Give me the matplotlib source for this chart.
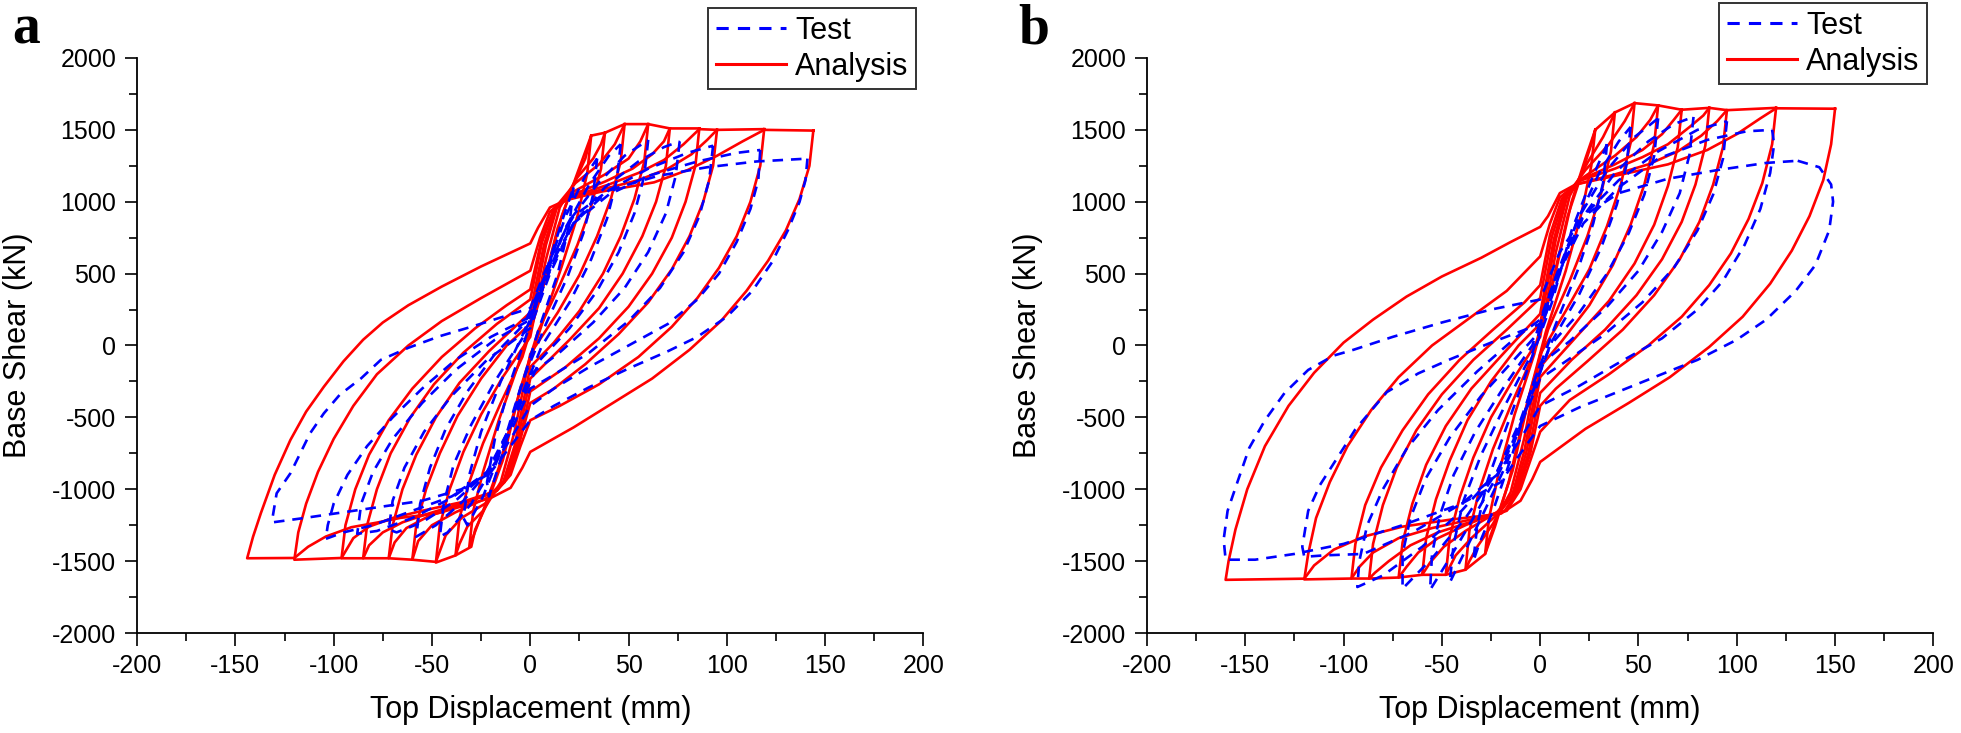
import matplotlib
matplotlib.use("Agg")
from matplotlib import pyplot as plt
from matplotlib.lines import Line2D

# loops: (top displacement mm, base shear kN)
# each loop starts and ends at its positive peak

# ---- panel a, analysis (red)
ana_a = [
    [(144, 1495), (142, 1250), (137, 1020), (130, 800), (121, 590), (110, 380), (97, 170), (81, -30),
     (62, -230), (42, -400), (22, -570), (0, -740), (-4, -850), (-10, -990), (-20, -1060), (-47, -1167),
     (-66, -1199), (-78, -1232), (-91, -1264), (-104, -1329), (-113, -1400), (-120, -1478), (-144, -1480),
     (-141, -1330), (-137, -1165), (-130, -900), (-122, -657), (-114, -460), (-105, -287), (-95, -110),
     (-85, 40), (-75, 160), (-62, 280), (-45, 410), (-25, 550), (0, 710), (4, 820), (10, 960), (18, 1010),
     (36, 1070), (63, 1135), (80, 1220), (95, 1320), (108, 1420), (119, 1500), (144, 1495)],
    [(119, 1505), (117, 1250), (112, 1000), (105, 760), (96, 540), (85, 330), (72, 130), (55, -80),
     (35, -270), (15, -420), (0, -520), (-5, -700), (-10, -900), (-17, -1010), (-35, -1090),
     (-55, -1150), (-70, -1200), (-82, -1260), (-90, -1340), (-96, -1478), (-120, -1490),
     (-118, -1300), (-114, -1100), (-108, -880), (-100, -650), (-90, -420), (-78, -200), (-62, 0),
     (-45, 170), (-25, 330), (0, 520), (5, 750), (10, 930), (17, 1010), (35, 1080), (55, 1150),
     (70, 1230), (82, 1330), (90, 1430), (95, 1500), (119, 1505)],
    [(95, 1500), (93, 1250), (88, 1000), (81, 760), (72, 530), (60, 300), (45, 80), (28, -130),
     (12, -300), (0, -400), (-5, -650), (-10, -880), (-17, -1010), (-35, -1100), (-52, -1170),
     (-65, -1230), (-75, -1300), (-82, -1390), (-85, -1480), (-96, -1480),
     (-94, -1250), (-89, -1000), (-82, -760), (-72, -520), (-60, -300), (-45, -80), (-28, 120),
     (-12, 280), (0, 390), (6, 750), (12, 950), (20, 1030), (40, 1120), (55, 1200), (68, 1290),
     (78, 1400), (86, 1505), (95, 1500)],
    [(86, 1510), (84, 1250), (79, 1000), (72, 750), (62, 500), (50, 270), (35, 50), (18, -150),
     (0, -320), (-6, -700), (-12, -930), (-20, -1030), (-38, -1120), (-52, -1190), (-63, -1270),
     (-69, -1370), (-72, -1480), (-85, -1480),
     (-83, -1250), (-78, -1000), (-71, -750), (-61, -500), (-49, -270), (-34, -50), (-17, 150), (0, 320),
     (6, 720), (12, 940), (20, 1040), (38, 1140), (52, 1230), (62, 1330), (68, 1420), (71, 1510), (86, 1510)],
    [(71, 1510), (69, 1250), (64, 1000), (57, 760), (47, 500), (35, 260), (20, 40), (0, -230),
     (-7, -700), (-13, -950), (-22, -1060), (-38, -1160), (-50, -1250), (-57, -1360), (-60, -1490),
     (-72, -1480),
     (-70, -1250), (-65, -1000), (-58, -760), (-48, -500), (-36, -260), (-21, -40), (0, 230),
     (7, 700), (13, 950), (22, 1070), (38, 1190), (50, 1300), (56, 1420), (60, 1540), (71, 1510)],
    [(60, 1540), (58, 1280), (53, 1020), (46, 760), (37, 500), (25, 240), (12, 20), (0, -150),
     (-8, -700), (-14, -960), (-23, -1100), (-35, -1200), (-43, -1320), (-48, -1505), (-60, -1490),
     (-58, -1250), (-53, -1000), (-46, -750), (-37, -490), (-25, -230), (-12, 0), (0, 150),
     (8, 700), (14, 980), (23, 1130), (35, 1260), (43, 1400), (48, 1540), (60, 1540)],
    [(48, 1540), (46, 1280), (41, 1020), (34, 760), (25, 490), (14, 230), (0, -60), (-8, -600),
     (-15, -950), (-24, -1150), (-32, -1260), (-36, -1380), (-38, -1460), (-48, -1510),
     (-46, -1250), (-41, -1000), (-34, -740), (-25, -480), (-14, -220), (0, 60), (8, 600),
     (15, 960), (24, 1170), (32, 1300), (36, 1400), (38, 1480), (48, 1540)],
    [(38, 1480), (36, 1230), (31, 970), (24, 700), (15, 420), (4, 100), (-5, -300), (-14, -800),
     (-22, -1100), (-28, -1280), (-30, -1400), (-38, -1460),
     (-36, -1200), (-31, -950), (-24, -680), (-15, -400), (-4, -80), (5, 330), (14, 820),
     (22, 1120), (28, 1300), (31, 1460), (38, 1480)],
    [(31, 1460), (29, 1200), (24, 900), (16, 550), (6, 150), (-6, -350), (-16, -850), (-24, -1150),
     (-31, -1400), (-29, -1150), (-24, -880), (-16, -520), (-6, -130), (6, 380), (16, 900),
     (24, 1200), (31, 1460)],
]

# ---- panel a, test (blue)
test_a = [
    [(141, 1300), (140, 1150), (137, 1000), (131, 800), (123, 580), (113, 380), (100, 200), (85, 60),
     (70, -40), (50, -160), (30, -290), (12, -420), (0, -520), (-10, -700), (-20, -880), (-35, -1000),
     (-55, -1080), (-80, -1130), (-100, -1170), (-115, -1200), (-131, -1230),
     (-131, -1190), (-129, -1028), (-122, -889), (-117, -750), (-112, -611), (-105, -472), (-97, -344),
     (-86, -228), (-76, -100), (-62, -16), (-46, 65), (-30, 130), (-15, 195), (0, 260), (10, 600),
     (22, 900), (40, 1080), (65, 1180), (90, 1240), (115, 1280), (141, 1300)],
    [(117, 1360), (116, 1150), (112, 950), (105, 720), (96, 500), (85, 320), (70, 150), (50, 0),
     (30, -150), (12, -300), (0, -420), (-10, -650), (-22, -900), (-40, -1050), (-60, -1150),
     (-80, -1250), (-95, -1300), (-104, -1345),
     (-103, -1250), (-100, -1100), (-93, -900), (-83, -700), (-70, -500), (-55, -300), (-38, -100),
     (-20, 60), (0, 200), (10, 550), (22, 850), (40, 1050), (60, 1180), (85, 1280), (105, 1340), (117, 1360)],
    [(93, 1390), (91, 1150), (86, 900), (78, 650), (66, 400), (50, 170), (30, -50), (10, -220),
     (0, -300), (-10, -600), (-22, -880), (-40, -1060), (-60, -1200), (-78, -1290), (-88, -1310),
     (-86, -1100), (-80, -880), (-70, -650), (-55, -400), (-38, -170), (-18, 40), (0, 180), (10, 520),
     (22, 850), (40, 1080), (60, 1230), (80, 1340), (93, 1390)],
    [(76, 1420), (74, 1180), (69, 920), (60, 650), (48, 400), (32, 160), (14, -60), (0, -200),
     (-10, -560), (-22, -880), (-38, -1080), (-55, -1230), (-68, -1300), (-72, -1280),
     (-70, -1080), (-64, -850), (-54, -600), (-40, -350), (-22, -100), (0, 120), (10, 500),
     (22, 850), (38, 1100), (55, 1280), (68, 1380), (76, 1420)],
    [(60, 1430), (58, 1180), (53, 920), (45, 650), (34, 380), (20, 120), (5, -100), (-8, -500),
     (-20, -850), (-34, -1080), (-48, -1250), (-58, -1330),
     (-56, -1100), (-51, -850), (-43, -580), (-32, -320), (-18, -60), (-3, 150), (8, 500),
     (20, 870), (34, 1120), (48, 1320), (60, 1430)],
    [(46, 1400), (44, 1150), (39, 880), (31, 600), (20, 300), (6, 0), (-6, -400), (-17, -800),
     (-30, -1100), (-42, -1300), (-46, -1330),
     (-44, -1100), (-39, -830), (-30, -550), (-18, -250), (-4, 50), (8, 450), (18, 820),
     (30, 1120), (40, 1320), (46, 1400)],
    [(34, 1300), (32, 1050), (27, 780), (19, 480), (8, 150), (-4, -250), (-14, -700), (-24, -1050),
     (-32, -1250), (-34, -1200), (-31, -900), (-25, -600), (-15, -250), (-3, 100), (8, 500),
     (18, 900), (28, 1180), (34, 1300)],
    [(22, 1100), (20, 850), (14, 500), (4, 100), (-6, -350), (-14, -750), (-21, -1050),
     (-22, -950), (-18, -650), (-10, -250), (0, 150), (10, 600), (17, 900), (22, 1100)],
]

# ---- panel b, analysis (red)
ana_b = [
    [(150, 1647), (148, 1400), (144, 1150), (137, 900), (128, 660), (117, 430), (103, 200), (86, -10),
     (66, -220), (45, -400), (23, -580), (0, -810), (-4, -930), (-10, -1080), (-20, -1170),
     (-45, -1210), (-70, -1260), (-90, -1330), (-105, -1420), (-115, -1530), (-120, -1622), (-160, -1630),
     (-158.5, -1500), (-155, -1280), (-149, -1000), (-140, -700), (-128, -420), (-115, -190), (-100, 20),
     (-85, 180), (-68, 340), (-50, 480), (-30, 610), (-15, 720), (0, 825), (4, 900), (10, 1060),
     (18, 1120), (38, 1180), (65, 1260), (85, 1360), (100, 1470), (112, 1580), (120, 1650), (150, 1647)],
    [(120, 1653), (118, 1400), (113, 1130), (106, 880), (97, 640), (86, 420), (72, 200), (55, 0),
     (35, -200), (15, -380), (0, -600), (-5, -800), (-10, -1000), (-17, -1150), (-35, -1210),
     (-55, -1270), (-72, -1340), (-85, -1440), (-92, -1540), (-96, -1621), (-120, -1627),
     (-118, -1450), (-114, -1200), (-107, -950), (-98, -700), (-86, -450), (-72, -220), (-55, 0),
     (-35, 200), (-17, 380), (0, 620), (5, 850), (10, 1030), (18, 1120), (38, 1190), (55, 1260),
     (70, 1350), (82, 1460), (90, 1560), (95, 1637), (120, 1653)],
    [(95, 1637), (93, 1380), (88, 1120), (81, 860), (71, 600), (58, 350), (42, 110), (24, -110),
     (8, -300), (0, -420), (-5, -750), (-11, -1000), (-18, -1150), (-36, -1230), (-52, -1300),
     (-66, -1390), (-77, -1500), (-84, -1580), (-87, -1621), (-96, -1621),
     (-94, -1380), (-89, -1110), (-81, -850), (-70, -590), (-57, -340), (-41, -100), (-24, 110),
     (-8, 300), (0, 420), (5, 770), (11, 1020), (19, 1140), (38, 1230), (52, 1310), (65, 1400),
     (76, 1520), (83, 1600), (86, 1653), (95, 1637)],
    [(86, 1653), (84, 1390), (79, 1120), (72, 860), (62, 600), (49, 350), (33, 110), (16, -100),
     (0, -330), (-6, -750), (-12, -1010), (-20, -1150), (-38, -1250), (-52, -1340), (-62, -1440),
     (-68, -1540), (-72, -1614), (-87, -1621),
     (-85, -1380), (-80, -1110), (-73, -850), (-63, -590), (-50, -340), (-34, -100), (-17, 110), (0, 330),
     (6, 760), (12, 1020), (20, 1150), (38, 1260), (52, 1360), (62, 1470), (68, 1570), (72, 1640), (86, 1653)],
    [(72, 1640), (70, 1380), (65, 1110), (58, 840), (48, 570), (35, 310), (19, 70), (0, -220),
     (-7, -740), (-13, -1020), (-22, -1160), (-38, -1290), (-49, -1400), (-56, -1510), (-60, -1595),
     (-72, -1614),
     (-70, -1370), (-65, -1100), (-58, -830), (-48, -560), (-35, -300), (-19, -60), (0, 220),
     (7, 740), (13, 1030), (22, 1170), (38, 1320), (49, 1450), (56, 1570), (60, 1670), (72, 1640)],
    [(60, 1670), (58, 1400), (53, 1120), (46, 840), (37, 560), (25, 280), (11, 30), (0, -150),
     (-8, -730), (-14, -1030), (-23, -1190), (-35, -1340), (-43, -1460), (-48, -1595), (-60, -1595),
     (-58, -1340), (-53, -1070), (-46, -800), (-37, -520), (-25, -250), (-11, 0), (0, 150),
     (8, 740), (14, 1050), (23, 1220), (35, 1400), (43, 1560), (48, 1686), (60, 1670)],
    [(48, 1686), (46, 1410), (41, 1120), (34, 830), (25, 530), (13, 240), (0, -60), (-8, -640),
     (-15, -1020), (-24, -1240), (-32, -1400), (-36, -1500), (-38, -1560), (-48, -1595),
     (-46, -1330), (-41, -1060), (-34, -780), (-25, -500), (-13, -220), (0, 60), (8, 650),
     (15, 1040), (24, 1270), (32, 1450), (36, 1560), (38, 1621), (48, 1686)],
    [(38, 1621), (36, 1350), (31, 1060), (24, 760), (15, 450), (4, 110), (-5, -320), (-14, -870),
     (-22, -1200), (-26, -1350), (-28, -1450), (-38, -1560),
     (-36, -1290), (-31, -1010), (-24, -720), (-15, -420), (-4, -80), (5, 360), (14, 900),
     (22, 1230), (26, 1400), (28, 1500), (38, 1621)],
    [(28, 1500), (26, 1250), (21, 920), (13, 520), (3, 100), (-7, -420), (-16, -950), (-23, -1260),
     (-28, -1450), (-26, -1200), (-21, -880), (-13, -480), (-3, -60), (7, 460), (16, 1000),
     (23, 1300), (28, 1500)],
]

# ---- panel b, test (blue)
test_b = [
    [(131, 1285), (142, 1240), (148, 1120), (149, 1000), (147, 800), (140, 560), (130, 380), (115, 180),
     (100, 40), (80, -100), (60, -210), (40, -320), (20, -430), (0, -560), (-10, -750), (-20, -950),
     (-40, -1100), (-70, -1250), (-100, -1380), (-125, -1450), (-145, -1490), (-160, -1490),
     (-161, -1350), (-159, -1150), (-154, -950), (-148, -713), (-140, -520), (-130, -330), (-118, -170),
     (-105, -70), (-95, -30), (-75, 60), (-50, 160), (-25, 250), (0, 320), (10, 650), (22, 900),
     (40, 1060), (65, 1160), (90, 1220), (115, 1270), (131, 1285)],
    [(118, 1500), (119, 1400), (117, 1200), (112, 950), (104, 700), (93, 450), (80, 250), (62, 50),
     (40, -120), (20, -280), (0, -420), (-10, -650), (-22, -900), (-40, -1100), (-65, -1300),
     (-90, -1450), (-110, -1460), (-120, -1470),
     (-121, -1400), (-118, -1150), (-112, -970), (-100, -713), (-94, -583), (-78, -324), (-62, -194),
     (-46, -97), (-25, 20), (0, 150), (10, 520), (22, 850), (40, 1100), (60, 1300), (85, 1430),
     (105, 1490), (118, 1500)],
    [(95, 1560), (93, 1300), (88, 1050), (80, 800), (68, 540), (52, 300), (32, 70), (12, -120),
     (0, -230), (-10, -550), (-22, -880), (-40, -1150), (-60, -1400), (-80, -1600), (-93, -1680),
     (-92, -1500), (-88, -1250), (-80, -1000), (-68, -720), (-52, -450), (-32, -180), (-12, 60),
     (0, 180), (10, 550), (22, 900), (40, 1150), (60, 1350), (80, 1500), (95, 1560)],
    [(78, 1590), (76, 1330), (71, 1060), (62, 790), (50, 520), (34, 270), (15, 30), (0, -130),
     (-10, -520), (-22, -880), (-38, -1200), (-55, -1480), (-70, -1692),
     (-70, -1450), (-66, -1200), (-58, -920), (-46, -640), (-30, -350), (-12, -80), (0, 100),
     (10, 520), (22, 900), (38, 1200), (55, 1420), (68, 1540), (78, 1590)],
    [(60, 1580), (58, 1320), (53, 1050), (45, 780), (34, 500), (20, 230), (5, 0), (-8, -480),
     (-20, -860), (-34, -1200), (-46, -1480), (-56, -1700),
     (-55, -1450), (-51, -1180), (-44, -900), (-33, -600), (-19, -300), (-4, 0), (8, 480),
     (20, 900), (34, 1220), (48, 1450), (60, 1580)],
    [(46, 1520), (44, 1260), (39, 980), (31, 680), (20, 360), (6, 30), (-6, -400), (-17, -820),
     (-30, -1200), (-40, -1480), (-46, -1650),
     (-44, -1380), (-39, -1080), (-30, -760), (-18, -420), (-4, -50), (8, 420), (18, 840),
     (30, 1200), (40, 1420), (46, 1520)],
    [(34, 1400), (32, 1130), (27, 850), (19, 520), (8, 150), (-4, -280), (-14, -750), (-24, -1150),
     (-31, -1380), (-34, -1500), (-32, -1250), (-27, -950), (-18, -600), (-6, -150), (6, 300),
     (16, 800), (26, 1150), (34, 1400)],
]

panels = [
    ("a", test_a, ana_a, 0.0699, (916 / 1961, 1 - 8 / 733), (26 / 1961, 1 - 30 / 733)),
    ("b", test_b, ana_b, 0.5849, (1927 / 1961, 1 - 3 / 733), (1034 / 1961, 1 - 30 / 733)),
]

plt.rcParams['font.family'] = ['Liberation Sans', 'DejaVu Sans']
plt.rcParams['axes.unicode_minus'] = False

fig = plt.figure(figsize=(19.61, 7.33), dpi=100)

for tag, test, ana, left, leg_pos, tag_pos in panels:
    ax = fig.add_axes([left, 0.1364, 0.4010, 0.7845])

    for loop in ana:
        xs, ys = zip(*loop)
        ax.plot(xs, ys, color='#ff0000', lw=1.9, solid_joinstyle='round', zorder=2)
    for loop in test:
        xs, ys = zip(*loop)
        ax.plot(xs, ys, color='#0000ff', lw=1.9, ls=(0, (4, 3)), zorder=3)

    ax.set_xlim(-200, 200)
    ax.set_ylim(-2000, 2000)
    ax.set_xticks(range(-200, 201, 50))
    ax.set_yticks(range(-2000, 2001, 500))
    ax.set_xticks(range(-175, 200, 50), minor=True)
    ax.set_yticks(range(-1750, 2000, 500), minor=True)
    ax.tick_params(which='major', direction='out', length=9, width=1.2, labelsize=18, pad=6)
    ax.tick_params(which='minor', direction='out', length=5.5, width=1.2)
    ax.spines['top'].set_visible(False)
    ax.spines['right'].set_visible(False)
    ax.spines['left'].set_linewidth(1.3)
    ax.spines['bottom'].set_linewidth(1.3)

    ax.set_xlabel('Top Displacement (mm)', fontsize=22, va='center')
    ax.set_ylabel('Base Shear (kN)', fontsize=22, va='center')
    ax.xaxis.set_label_coords(0.5, -0.134)
    ax.yaxis.set_label_coords(-0.151, 0.5)

    handles = [Line2D([], [], color='#0000ff', lw=2.2, ls=(0, (4, 3))),
               Line2D([], [], color='#ff0000', lw=2.2)]
    leg = fig.legend(handles, ['Test', 'Analysis'], loc='upper right', bbox_to_anchor=leg_pos,
                     fontsize=22, frameon=True, fancybox=False, handlelength=2.3,
                     handletextpad=0.3, labelspacing=0.2, borderpad=0.25, borderaxespad=0)
    leg.get_frame().set_edgecolor('black')
    leg.get_frame().set_linewidth(1.4)

    fig.text(tag_pos[0], tag_pos[1], tag, fontsize=40, fontweight='bold',
             family='Liberation Serif', ha='center', va='center')

fig.savefig('out.png', dpi=100)
